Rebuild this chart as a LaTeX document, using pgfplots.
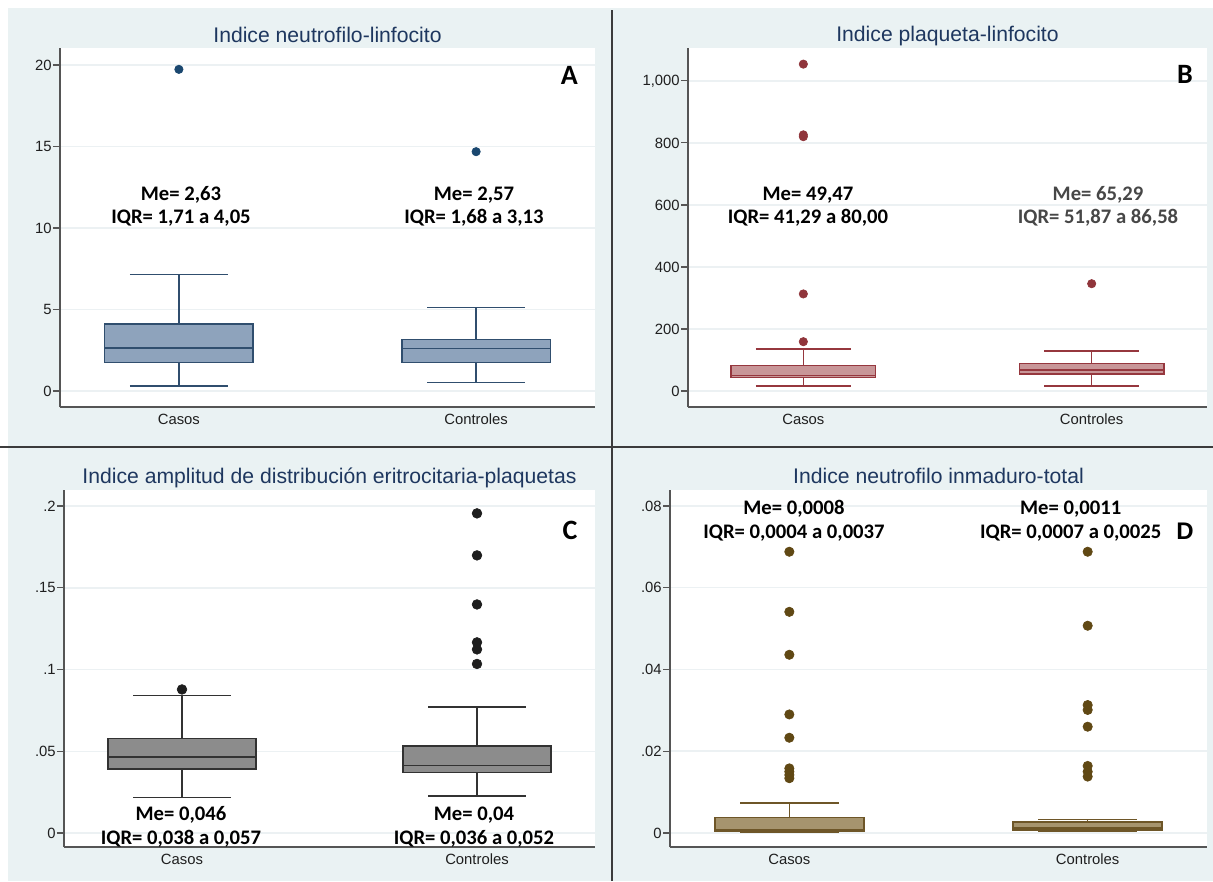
\documentclass[border=0pt]{standalone}
\usepackage{pgfplots}
\pgfplotsset{compat=1.18}
\usepackage{fontspec}
\setmainfont{Liberation Sans}
\newfontfamily\calfam{Carlito}
\definecolor{bgc}{RGB}{234,242,243}
\definecolor{gridc}{RGB}{236,241,243}
\definecolor{axgray}{RGB}{85,85,85}
\definecolor{divc}{RGB}{60,60,60}
\definecolor{titlec}{RGB}{30,55,95}
\definecolor{afill}{RGB}{142,163,188}
\definecolor{aline}{RGB}{48,78,110}
\definecolor{adot}{RGB}{26,71,111}
\definecolor{bfill}{RGB}{200,150,152}
\definecolor{bline}{RGB}{150,55,62}
\definecolor{bdot}{RGB}{144,53,59}
\definecolor{cfill}{RGB}{140,140,140}
\definecolor{cline}{RGB}{50,50,50}
\definecolor{cdot}{RGB}{30,30,30}
\definecolor{dfill}{RGB}{166,148,110}
\definecolor{dline}{RGB}{110,86,40}
\definecolor{ddot}{RGB}{96,72,20}
\pgfplotsset{
  stata/.style={
    scale only axis, axis lines*=left, tick pos=left,
    axis line style={draw=axgray, line width=0.7pt},
    xmin=0.6, xmax=2.4, xtick={1,2}, xticklabels={Casos,Controles},
    scaled y ticks=false,
    ymajorgrids, major grid style={draw=gridc, line width=0.9pt},
    axis background/.style={fill=white},
    tick align=outside, major tick length=4.2pt,
    ytick style={draw=axgray, line width=0.7pt},
    xtick style={draw=none},
    ticklabel style={font=\fontsize{8.9}{10}\selectfont, text=black!88},
    yticklabel style={inner xsep=0.6pt},
    xticklabel style={inner sep=0pt, text height=6.5pt, text depth=0pt, yshift=0.6pt},
    clip=false,
  },
}
\tikzset{
  ttl/.style={anchor=base, font=\fontsize{12.7}{14}\selectfont, text=titlec},
  ann/.style={anchor=base, font=\calfam\bfseries\fontsize{12.4}{14}\selectfont},
  letter/.style={anchor=base, font=\calfam\bfseries\fontsize{16.8}{18}\selectfont},
}
% box at position 1: #1 line colour, #2 fill, #3 lw, #4 lq, #5 med, #6 uq, #7 uw
\newcommand{\boxone}[7]{%
  \addplot[draw=#1, line width=0.95pt, forget plot] coordinates {(1,#6) (1,#7)};
  \addplot[draw=#1, line width=0.95pt, forget plot] coordinates {(1,#3) (1,#4)};
  \addplot[draw=#1, line width=0.95pt, forget plot] coordinates {(0.835,#7) (1.165,#7)};
  \addplot[draw=#1, line width=0.95pt, forget plot] coordinates {(0.835,#3) (1.165,#3)};
  \addplot[draw=#1, fill=#2, line width=0.95pt, line join=miter, forget plot] coordinates {(0.75,#4) (1.25,#4) (1.25,#6) (0.75,#6) (0.75,#4)} -- cycle;
  \addplot[draw=#1, line width=0.95pt, forget plot] coordinates {(0.75,#5) (1.25,#5)};
}
\newcommand{\boxtwo}[7]{%
  \addplot[draw=#1, line width=0.95pt, forget plot] coordinates {(2,#6) (2,#7)};
  \addplot[draw=#1, line width=0.95pt, forget plot] coordinates {(2,#3) (2,#4)};
  \addplot[draw=#1, line width=0.95pt, forget plot] coordinates {(1.835,#7) (2.165,#7)};
  \addplot[draw=#1, line width=0.95pt, forget plot] coordinates {(1.835,#3) (2.165,#3)};
  \addplot[draw=#1, fill=#2, line width=0.95pt, line join=miter, forget plot] coordinates {(1.75,#4) (2.25,#4) (2.25,#6) (1.75,#6) (1.75,#4)} -- cycle;
  \addplot[draw=#1, line width=0.95pt, forget plot] coordinates {(1.75,#5) (2.25,#5)};
}
\begin{document}
\begin{tikzpicture}
\useasboundingbox (0,0) rectangle (727.8pt,528.6pt);
\fill[white] (0,0) rectangle (727.8pt,528.6pt);
\fill[bgc] (4.8pt,0) rectangle (727.8pt,523.8pt);
\draw[divc, line width=1pt] (367.2pt,0) -- (367.2pt,522.6pt);
\draw[divc, line width=1pt] (0,260.4pt) -- (727.8pt,260.4pt);

% ---------- A ----------
\begin{axis}[stata, at={(36pt,284.4pt)}, anchor=south west,
  width=321pt, height=215.4pt, ymin=-0.98, ymax=21.04,
  ytick={0,5,10,15,20}, yticklabels={0,5,10,15,20}]
\boxone{aline}{afill}{0.32}{1.74}{2.64}{4.1}{7.15}
\boxtwo{aline}{afill}{0.53}{1.74}{2.6}{3.17}{5.13}
\addplot[only marks, mark=*, mark size=2.5pt, color=adot] coordinates {(1,19.73) (2,14.68)};
\node[ttl] at ([yshift=3.6pt]rel axis cs:0.5,1) {Indice neutrofilo-linfocito};
\node[letter] at (rel axis cs:0.952,0.8997) {A};
\node[ann] at (rel axis cs:0.2262,0.5766) {Me= 2,63};
\node[ann] at (rel axis cs:0.2262,0.5125) {IQR= 1,71 a 4,05};
\node[ann] at (rel axis cs:0.7738,0.5766) {Me= 2,57};
\node[ann] at (rel axis cs:0.7738,0.5125) {IQR= 1,68 a 3,13};
\end{axis}

% ---------- B ----------
\begin{axis}[stata, at={(412.8pt,284.4pt)}, anchor=south west,
  width=311.4pt, height=215.4pt, ymin=-51.6, ymax=1106,
  ytick={0,200,400,600,800,1000}, yticklabels={0,200,400,600,800,{1,000}}]
\boxone{bline}{bfill}{17}{44}{50}{81.6}{135}
\boxtwo{bline}{bfill}{17}{55}{68}{89}{129}
\addplot[only marks, mark=*, mark size=2.5pt, color=bdot] coordinates
  {(1,1054) (1,826) (1,820) (1,313) (1,159) (2,346)};
\node[ttl] at ([yshift=3.6pt]rel axis cs:0.5,1) {Indice plaqueta-linfocito};
\node[letter] at (rel axis cs:0.9576,0.9025) {B};
\node[ann] at (rel axis cs:0.2312,0.5766) {Me= 49,47};
\node[ann] at (rel axis cs:0.2312,0.5125) {IQR= 41,29 a 80,00};
\node[ann, text=black!72] at (rel axis cs:0.790,0.5766) {Me= 65,29};
\node[ann, text=black!72] at (rel axis cs:0.790,0.5125) {IQR= 51,87 a 86,58};
\end{axis}

% ---------- C ----------
\begin{axis}[stata, at={(38.4pt,20.4pt)}, anchor=south west,
  width=318.6pt, height=214.2pt, ymin=-0.00856, ymax=0.2098,
  ytick={0,0.05,0.1,0.15,0.2}, yticklabels={0,.05,.1,.15,.2}]
\boxone{cline}{cfill}{0.0216}{0.0391}{0.0466}{0.0578}{0.084}
\boxtwo{cline}{cfill}{0.0228}{0.0369}{0.0413}{0.0534}{0.0772}
\addplot[only marks, mark=*, mark size=2.9pt, color=cdot] coordinates
  {(1,0.0878) (2,0.1955) (2,0.1698) (2,0.1398) (2,0.1166) (2,0.1123) (2,0.1034)};
\node[ttl] at ([yshift=4.2pt]rel axis cs:0.5,1) {Indice amplitud de distribución eritrocitaria-plaquetas};
\node[letter] at (rel axis cs:0.9529,0.8627) {C};
\node[ann] at (rel axis cs:0.2203,0.0756) {Me= 0,046};
\node[ann] at (rel axis cs:0.2203,0.0084) {IQR= 0,038 a 0,057};
\node[ann] at (rel axis cs:0.7721,0.0756) {Me= 0,04};
\node[ann] at (rel axis cs:0.7721,0.0084) {IQR= 0,036 a 0,052};
\end{axis}

% ---------- D ----------
\begin{axis}[stata, at={(402pt,20.4pt)}, anchor=south west,
  width=322.2pt, height=214.2pt, ymin=-0.00343, ymax=0.0839,
  ytick={0,0.02,0.04,0.06,0.08}, yticklabels={0,.02,.04,.06,.08}]
\boxone{dline}{dfill}{0.0001}{0.0005}{0.0009}{0.0038}{0.0074}
\boxtwo{dline}{dfill}{0.0004}{0.0008}{0.0012}{0.0027}{0.0033}
\addplot[only marks, mark=*, mark size=2.8pt, color=ddot] coordinates
  {(1,0.0688) (1,0.0541) (1,0.0436) (1,0.0290) (1,0.0233) (1,0.0158) (1,0.0150) (1,0.0142) (1,0.0134)
   (2,0.0688) (2,0.0507) (2,0.0313) (2,0.0301) (2,0.0260) (2,0.0164) (2,0.0150) (2,0.0138)};
\node[ttl] at ([yshift=4.2pt]rel axis cs:0.5,1) {Indice neutrofilo inmaduro-total};
\node[anchor=base, font=\bfseries\fontsize{14.4}{16}\selectfont] at (rel axis cs:0.959,0.8627) {D};
\node[ann] at (rel axis cs:0.2309,0.9328) {Me= 0,0008};
\node[ann] at (rel axis cs:0.2309,0.8655) {IQR= 0,0004 a 0,0037};
\node[ann] at (rel axis cs:0.7462,0.9328) {Me= 0,0011};
\node[ann] at (rel axis cs:0.7462,0.8655) {IQR= 0,0007 a 0,0025};
\end{axis}
\end{tikzpicture}
\end{document}
